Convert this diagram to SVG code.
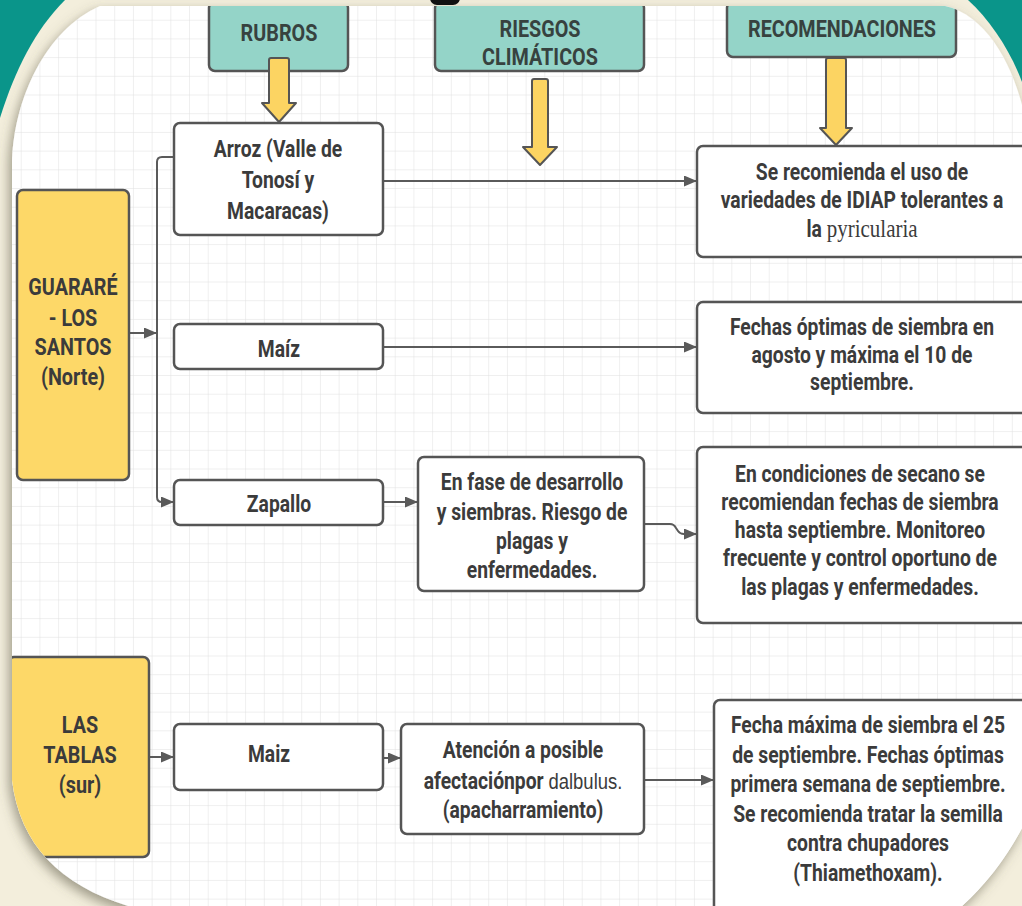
<svg xmlns="http://www.w3.org/2000/svg" width="1022" height="906" viewBox="0 0 1022 906">
<style>
.t{font-family:Roboto,"Liberation Sans",sans-serif;font-size:23px;font-weight:700;fill:#3b3b3b;text-anchor:middle}
.h{font-family:Roboto,"Liberation Sans",sans-serif;font-size:23px;font-weight:700;fill:#37423f;text-anchor:middle}
.box{fill:#ffffff;stroke:#555;stroke-width:2.5}
.hdr{fill:#94d4c8;stroke:#555;stroke-width:2.5}
.yel{fill:#fdd868;stroke:#555;stroke-width:2.5}
.ya{fill:#fcd462;stroke:#555;stroke-width:2;stroke-linejoin:round}
.c{fill:none;stroke:#5a5a5a;stroke-width:2}
</style>
<defs>
<marker id="ah" markerUnits="userSpaceOnUse" markerWidth="14" markerHeight="12" refX="13" refY="5.5" orient="auto">
<path d="M0,0 L13,5.5 L0,11 Z" fill="#5a5a5a"/>
</marker>
<pattern id="grid" width="18.7" height="18.7" patternUnits="userSpaceOnUse" x="3" y="2">
<path d="M18.7 0 V18.7 M0 18.7 H18.7" stroke="#e0e0e0" stroke-width="1" fill="none"/>
</pattern>
<filter id="sh" x="-10%" y="-10%" width="120%" height="120%">
<feDropShadow dx="-3" dy="5" stdDeviation="6" flood-color="#5a5444" flood-opacity="0.55"/>
</filter>
<clipPath id="panel">
<path d="M100,6 L945,6 C985,15 1010,60 1022,105 L1022,828 C1005,860 985,885 962,906 L128,906 C60,885 20,845 12,780 L12,160 C14,100 45,30 100,6 Z"/>
</clipPath>
</defs>

<g id="background">
<rect x="0" y="0" width="1022" height="906" fill="#0a958a"/>
<path d="M65,0 L968,0 C990,20 1010,50 1022,82 L1022,906 L0,906 L0,118 C15,70 35,30 65,0 Z" fill="#f3eedc"/>
<path d="M100,6 L945,6 C985,15 1010,60 1022,105 L1022,828 C1005,860 985,885 962,906 L128,906 C60,885 20,845 12,780 L12,160 C14,100 45,30 100,6 Z" fill="#ffffff" filter="url(#sh)"/>
<rect x="0" y="0" width="1022" height="906" fill="url(#grid)" clip-path="url(#panel)"/>
<rect x="430" y="-10" width="30" height="15" rx="7" fill="#111"/>
</g>

<g clip-path="url(#panel)">
<g id="connectors">
<path class="c" d="M174,157 H162 Q157,157 157,162 V497 Q157,502 162,502 H174" marker-end="url(#ah)"/>
<path class="c" d="M129,333 H157" marker-end="url(#ah)"/>
<path class="c" d="M383,181 H697" marker-end="url(#ah)"/>
<path class="c" d="M383,347 H697" marker-end="url(#ah)"/>
<path class="c" d="M383,502 H418" marker-end="url(#ah)"/>
<path class="c" d="M644,524 H670 Q674,524 676,528 L678,531 Q680,534 684,534 H697" marker-end="url(#ah)"/>
<path class="c" d="M148,757 H174" marker-end="url(#ah)"/>
<path class="c" d="M383,758 H401" marker-end="url(#ah)"/>
<path class="c" d="M644,780 H714" marker-end="url(#ah)"/>
</g>

<g id="h-rubros">
<rect class="hdr" x="209" y="2" width="139" height="69" rx="6"/>
<text class="h" transform="translate(279 0) scale(0.86 1)"><tspan x="0" y="41">RUBROS</tspan></text>
<path class="ya" d="M271,58 H287 Q289,58 289,60 V103 H296 L279,122 L262,103 H269 V60 Q269,58 271,58 Z"/>
</g>
<g id="h-riesgos">
<rect class="hdr" x="435" y="2" width="209" height="69" rx="6"/>
<text class="h" transform="translate(540 0) scale(0.86 1)"><tspan x="0" y="37">RIESGOS</tspan><tspan x="0" y="65">CLIMÁTICOS</tspan></text>
<path class="ya" d="M534,79 H546 Q548,79 548,81 V147 H557 L540,165 L523,147 H532 V81 Q532,79 534,79 Z"/>
</g>
<g id="h-recom">
<rect class="hdr" x="727" y="2" width="229" height="55" rx="6"/>
<text class="h" transform="translate(842 0) scale(0.86 1)"><tspan x="0" y="37">RECOMENDACIONES</tspan></text>
<path class="ya" d="M828,58 H844 Q846,58 846,60 V128 H852 L836,145 L820,128 H826 V60 Q826,58 828,58 Z"/>
</g>

<g id="n-guarare">
<rect class="yel" x="17" y="190" width="112" height="290" rx="6"/>
<text class="t" transform="translate(73 0) scale(0.86 1)"><tspan x="0" y="295">GUARARÉ</tspan><tspan x="0" y="326">- LOS</tspan><tspan x="0" y="355">SANTOS</tspan><tspan x="0" y="385">(Norte)</tspan></text>
</g>
<g id="n-lastablas">
<rect class="yel" x="8" y="657" width="141" height="200" rx="6"/>
<text class="t" transform="translate(80 0) scale(0.86 1)"><tspan x="0" y="733">LAS</tspan><tspan x="0" y="763">TABLAS</tspan><tspan x="0" y="793">(sur)</tspan></text>
</g>

<g id="n-arroz">
<rect class="box" x="174" y="123" width="209" height="112" rx="6"/>
<text class="t" transform="translate(278 0) scale(0.84 1)"><tspan x="0" y="157">Arroz (Valle de</tspan><tspan x="0" y="188">Tonosí y</tspan><tspan x="0" y="219">Macaracas)</tspan></text>
</g>
<g id="n-maiz">
<rect class="box" x="174" y="324" width="209" height="45" rx="6"/>
<text class="t" transform="translate(279 0) scale(0.84 1)"><tspan x="0" y="357">Maíz</tspan></text>
</g>
<g id="n-zapallo">
<rect class="box" x="174" y="480" width="209" height="45" rx="6"/>
<text class="t" transform="translate(279 0) scale(0.84 1)"><tspan x="0" y="512">Zapallo</tspan></text>
</g>
<g id="n-maiz2">
<rect class="box" x="174" y="724" width="209" height="66" rx="6"/>
<text class="t" transform="translate(269 0) scale(0.84 1)"><tspan x="0" y="762">Maiz</tspan></text>
</g>

<g id="n-riesgo-zapallo">
<rect class="box" x="418" y="457" width="226" height="134" rx="6"/>
<text class="t" transform="translate(532 0) scale(0.84 1)"><tspan x="0" y="490">En fase de desarrollo</tspan><tspan x="0" y="520">y siembras. Riesgo de</tspan><tspan x="0" y="549">plagas y</tspan><tspan x="0" y="578">enfermedades.</tspan></text>
</g>
<g id="n-riesgo-maiz">
<rect class="box" x="401" y="724" width="243" height="110" rx="6"/>
<text class="t" transform="translate(523 0) scale(0.84 1)"><tspan x="0" y="758">Atención a posible</tspan><tspan x="0" y="789">afectaciónpor <tspan font-family="Liberation Sans" font-weight="400" font-size="22">dalbulus.</tspan></tspan><tspan x="0" y="818">(apacharramiento)</tspan></text>
</g>

<g id="n-r1">
<rect class="box" x="697" y="146" width="335" height="111" rx="6"/>
<text class="t" transform="translate(862 0) scale(0.84 1)"><tspan x="0" y="180">Se recomienda el uso de</tspan><tspan x="0" y="208">variedades de IDIAP tolerantes a</tspan><tspan x="0" y="237">la <tspan font-family="Liberation Serif" font-weight="400" font-size="25">pyricularia</tspan></tspan></text>
</g>
<g id="n-r2">
<rect class="box" x="697" y="302" width="335" height="111" rx="6"/>
<text class="t" transform="translate(862 0) scale(0.84 1)"><tspan x="0" y="335">Fechas óptimas de siembra en</tspan><tspan x="0" y="363">agosto y máxima el 10 de</tspan><tspan x="0" y="390">septiembre.</tspan></text>
</g>
<g id="n-r3">
<rect class="box" x="697" y="447" width="335" height="176" rx="6"/>
<text class="t" transform="translate(860 0) scale(0.84 1)"><tspan x="0" y="482">En condiciones de secano se</tspan><tspan x="0" y="510">recomiendan fechas de siembra</tspan><tspan x="0" y="538">hasta septiembre. Monitoreo</tspan><tspan x="0" y="566">frecuente y control oportuno de</tspan><tspan x="0" y="595">las plagas y enfermedades.</tspan></text>
</g>
<g id="n-r4">
<rect class="box" x="714" y="700" width="318" height="230" rx="6"/>
<text class="t" transform="translate(868 0) scale(0.84 1)"><tspan x="0" y="733">Fecha máxima de siembra el 25</tspan><tspan x="0" y="763">de septiembre. Fechas óptimas</tspan><tspan x="0" y="792">primera semana de septiembre.</tspan><tspan x="0" y="822">Se recomienda tratar la semilla</tspan><tspan x="0" y="851">contra chupadores</tspan><tspan x="0" y="881">(Thiamethoxam).</tspan></text>
</g>
</g>
</svg>
